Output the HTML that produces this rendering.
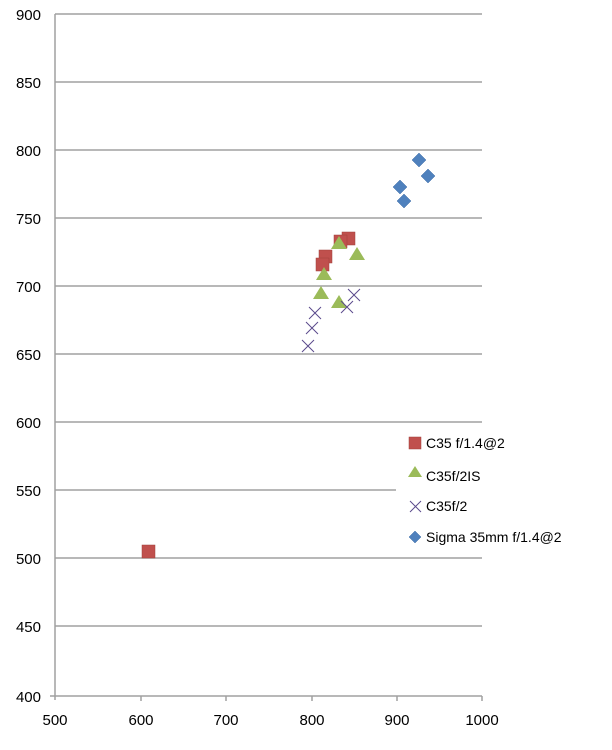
<!DOCTYPE html><html><head><style>body{margin:0;background:#fff}</style></head><body>
<svg width="612" height="745" xmlns="http://www.w3.org/2000/svg" font-family="Liberation Sans, sans-serif" font-size="15" fill="#000">
<g stroke="#a0a0a0" stroke-width="1.5">
<line x1="55" y1="14" x2="482" y2="14"/><line x1="55" y1="82" x2="482" y2="82"/><line x1="55" y1="150" x2="482" y2="150"/><line x1="55" y1="218" x2="482" y2="218"/><line x1="55" y1="286" x2="482" y2="286"/><line x1="55" y1="354" x2="482" y2="354"/><line x1="55" y1="422" x2="482" y2="422"/><line x1="55" y1="490" x2="482" y2="490"/><line x1="55" y1="558" x2="482" y2="558"/><line x1="55" y1="626" x2="482" y2="626"/><line x1="50" y1="696" x2="482" y2="696"/>
<line x1="55" y1="14" x2="55" y2="700"/>
<line x1="141" y1="696" x2="141" y2="701"/><line x1="226" y1="696" x2="226" y2="701"/><line x1="312" y1="696" x2="312" y2="701"/><line x1="397" y1="696" x2="397" y2="701"/><line x1="482" y1="696" x2="482" y2="701"/>
</g>
<rect x="396" y="428" width="100" height="125" fill="#fff"/>
<g text-anchor="end"><text x="41" y="20">900</text><text x="41" y="88">850</text><text x="41" y="156">800</text><text x="41" y="224">750</text><text x="41" y="292">700</text><text x="41" y="360">650</text><text x="41" y="428">600</text><text x="41" y="496">550</text><text x="41" y="564">500</text><text x="41" y="632">450</text><text x="41" y="702">400</text></g>
<g text-anchor="middle"><text x="55" y="725">500</text><text x="141" y="725">600</text><text x="226" y="725">700</text><text x="312" y="725">800</text><text x="397" y="725">900</text><text x="482" y="725">1000</text></g>
<g fill="#4f81bd" stroke="#3d6ba5" stroke-width="0.5">
<path d="M419 153l7 7-7 7-7-7z"/><path d="M428 169l7 7-7 7-7-7z"/><path d="M400 180l7 7-7 7-7-7z"/><path d="M404 194l7 7-7 7-7-7z"/><path d="M415 531l6 6-6 6-6-6z"/></g>
<g fill="#c0504d" stroke="#a0403d" stroke-width="0.5">
<rect x="342" y="232" width="13" height="13"/><rect x="334" y="235" width="13" height="13"/><rect x="319" y="250" width="13" height="13"/><rect x="316" y="258" width="13" height="13"/><rect x="142" y="545" width="13" height="13"/><rect x="409" y="437" width="12" height="12"/></g>
<g fill="#9bbb59">
<path d="M339 236l8 13h-16z"/><path d="M357 247l8 13h-16z"/><path d="M324 267l8 13h-16z"/><path d="M321 286l8 13h-16z"/><path d="M339 295l8 13h-16z"/><path d="M415 466l7 11h-14z"/></g>
<g stroke="#5a4a8c" stroke-width="1" fill="none">
<path d="M348 289l12 12M360 289l-12 12"/><path d="M341 301l12 12M353 301l-12 12"/><path d="M309 307l12 12M321 307l-12 12"/><path d="M306 322l12 12M318 322l-12 12"/><path d="M302 340l12 12M314 340l-12 12"/><path d="M410 501l11 11M421 501l-11 11"/></g>
<g font-size="14"><text x="426" y="448">C35 f/1.4@2</text><text x="426" y="481">C35f/2IS</text><text x="426" y="511">C35f/2</text><text x="426" y="542">Sigma 35mm f/1.4@2</text></g>
</svg></body></html>
